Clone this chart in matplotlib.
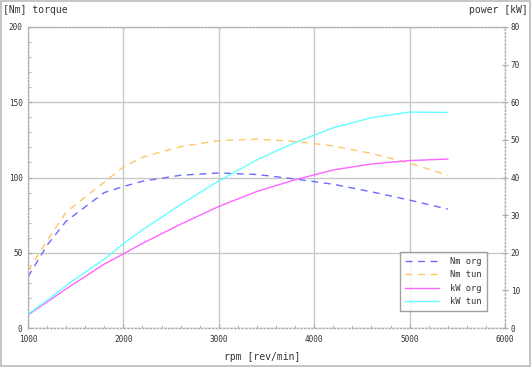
import matplotlib
matplotlib.use("Agg")
import matplotlib.pyplot as plt
from matplotlib.ticker import MultipleLocator

# Datos
rpm = [1000, 1200, 1400, 1800, 2000, 2200, 2600, 3000, 3400, 3800, 4200, 4600, 5000, 5400]
nm_org = [34, 55, 71, 90, 94, 97.5, 101.5, 103, 102, 99, 95.5, 90.5, 85, 79]
nm_tun = [38, 58, 77, 97, 107, 113.5, 120.5, 124.5, 125.5, 124, 121, 116, 109.5, 101.5]
kw_org = [3.5, 6.9, 10.4, 17.0, 19.7, 22.5, 27.6, 32.3, 36.3, 39.4, 42.0, 43.6, 44.5, 44.9]
kw_tun = [3.7, 7.3, 11.3, 18.3, 22.4, 26.1, 32.8, 39.1, 44.7, 49.3, 53.2, 55.9, 57.4, 57.3]

x_ticks = [1000, 2000, 3000, 4000, 5000, 6000]
y_ticks = [0, 50, 100, 150, 200]
kw_ticks = [0, 10, 20, 30, 40, 50, 60, 70, 80]

mono = "DejaVu Sans Mono"
txt = "#333333"
gris = "#c8c8c8"

fig = plt.figure(figsize=(5.32, 3.67), dpi=100)
fig.patches.append(plt.Rectangle((0.002, 0.003), 0.995, 0.994, transform=fig.transFigure,
                                 fill=False, edgecolor="#bbbbbb", linewidth=1.2))
ax = fig.add_axes([28 / 532, 39 / 367, 477 / 532, 301 / 367])

# Curvas de torque
l1, = ax.plot(rpm, nm_org, color="#6b6bff", linewidth=1, dashes=(5, 4), label="Nm org")
l2, = ax.plot(rpm, nm_tun, color="#ffc766", linewidth=1, dashes=(5, 4), label="Nm tun")

ax.set_xlim(1000, 6000)
ax.set_ylim(0, 200)
ax.set_xticks(x_ticks)
ax.set_yticks(y_ticks)
ax.xaxis.set_minor_locator(MultipleLocator(200))
ax.yaxis.set_minor_locator(MultipleLocator(10))
ax.grid(True, which="major", color=gris, linewidth=1)
ax.tick_params(which="both", direction="in", colors="#aaaaaa", labelcolor=txt,
               labelsize=5.6, length=2)
ax.tick_params(which="major", length=3)
for lbl in ax.get_xticklabels() + ax.get_yticklabels():
    lbl.set_family(mono)
ax.tick_params(axis="y", pad=4)
ax.tick_params(axis="x", pad=5)
for s in ax.spines.values():
    s.set_color("#b0b0b0")
    s.set_linestyle(":")
    s.set_linewidth(1)

# Curvas de potencia
ax2 = ax.twinx()
l3, = ax2.plot(rpm, kw_org, color="#ff66ff", linewidth=1, label="kW org")
l4, = ax2.plot(rpm, kw_tun, color="#66ffff", linewidth=1, label="kW tun")
ax2.set_ylim(0, 80)
ax2.set_yticks(kw_ticks)
ax2.tick_params(which="both", direction="inout", colors="#aaaaaa", labelcolor=txt,
                labelsize=5.6, length=4, pad=2)
for lbl in ax2.get_yticklabels():
    lbl.set_family(mono)
for s in ax2.spines.values():
    s.set_visible(False)

# Leyenda
leg = ax2.legend(handles=[l1, l2, l3, l4], loc="lower right", bbox_to_anchor=(0.962, 0.055),
                 prop={"family": mono, "size": 6.3}, frameon=True, fancybox=False,
                 edgecolor="#888888", handlelength=3.8, handletextpad=1.3,
                 borderpad=0.6, labelspacing=0.5, borderaxespad=0)
leg.get_frame().set_linewidth(1)
for t in leg.get_texts():
    t.set_color(txt)

# Titulos
fig.text(3 / 532, 1 - 10 / 367, "[Nm] torque", family=mono, fontsize=7, color=txt,
         va="center", ha="left")
fig.text(528 / 532, 1 - 10 / 367, "power [kW]", family=mono, fontsize=7, color=txt,
         va="center", ha="right")
fig.text(262 / 532, 1 - 357 / 367, "rpm [rev/min]", family=mono, fontsize=7, color=txt,
         va="center", ha="center")

fig.savefig("out.png", dpi=100)
